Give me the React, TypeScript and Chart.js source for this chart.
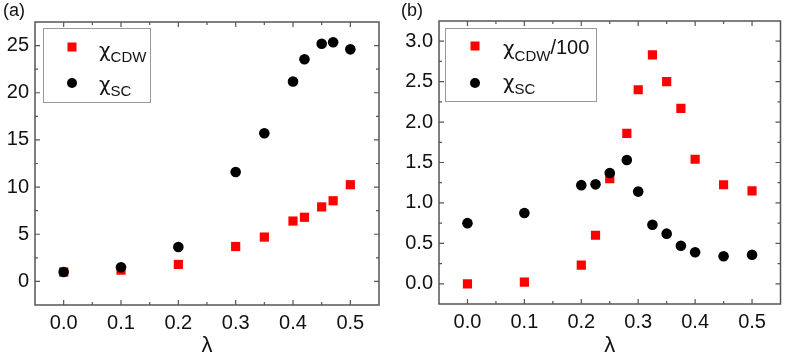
import React, { useEffect, useRef } from "react";
import { Chart, registerables } from "chart.js";
Chart.register(...registerables);

// ---- data ----
const lambdaA = [0, 0.1, 0.2, 0.3, 0.35, 0.4, 0.42, 0.45, 0.47, 0.5];
const cdwA = [1.0, 1.2, 1.8, 3.7, 4.7, 6.4, 6.8, 7.9, 8.55, 10.25];
const scA = [1.0, 1.5, 3.65, 11.6, 15.7, 21.2, 23.55, 25.2, 25.35, 24.6];

const lambdaB = [0, 0.1, 0.2, 0.225, 0.25, 0.28, 0.3, 0.325, 0.35, 0.375, 0.4, 0.45, 0.5];
const cdwB = [0.0, 0.02, 0.23, 0.6, 1.3, 1.86, 2.4, 2.83, 2.5, 2.17, 1.54, 1.225, 1.15];
const scB = [0.75, 0.875, 1.22, 1.23, 1.37, 1.53, 1.14, 0.73, 0.62, 0.47, 0.39, 0.34, 0.36];

const xTicks = [0, 0.1, 0.2, 0.3, 0.4, 0.5];
const yTicksA = [0, 5, 10, 15, 20, 25];
const yTicksB = [0, 0.5, 1.0, 1.5, 2.0, 2.5, 3.0];

const panelLabels = ["(a)", "(b)"];
const xTitle = "λ";

const FONT = "'Liberation Sans', Arial, sans-serif";
const CHI_FONT = "'DejaVu Sans', sans-serif";
const AXIS = "#555";
const RED = "#ff0000";
const BLACK = "#000000";

type LegendItem = { shape: "rect" | "circle"; mx: number; my: number; tx: number; by: number; sb: number; sub: string; suffix: string };
type Spec = {
  label: string; labelX: number;
  box: { x: number; y: number; w: number; h: number };
  items: LegendItem[];
  xt: number[]; yt: number[];
};

function minorOf(ticks: number[], min: number, max: number) {
  const step = ticks[1] - ticks[0];
  const out: number[] = [];
  for (let v = ticks[0] - step / 2; v < max - 1e-9; v += step) {
    if (v > min + 1e-9) out.push(v);
  }
  return out;
}

function decorPlugin(spec: Spec) {
  return {
    id: "decor",
    afterDraw(chart: any) {
      const { ctx, chartArea: a, scales } = chart;
      const xs = scales.x, ys = scales.y;
      ctx.save();
      ctx.strokeStyle = AXIS;
      ctx.lineWidth = 1.5;
      ctx.strokeRect(a.left, a.top, a.right - a.left, a.bottom - a.top);
      ctx.lineWidth = 1.2;
      const drawX = (v: number, len: number) => {
        const p = xs.getPixelForValue(v);
        ctx.beginPath();
        ctx.moveTo(p, a.bottom); ctx.lineTo(p, a.bottom - len);
        ctx.moveTo(p, a.top); ctx.lineTo(p, a.top + len);
        ctx.stroke();
      };
      const drawY = (v: number, len: number) => {
        const p = ys.getPixelForValue(v);
        ctx.beginPath();
        ctx.moveTo(a.left, p); ctx.lineTo(a.left + len, p);
        ctx.moveTo(a.right, p); ctx.lineTo(a.right - len, p);
        ctx.stroke();
      };
      spec.xt.forEach((v) => drawX(v, 5));
      minorOf(spec.xt, xs.min, xs.max).forEach((v) => drawX(v, 3));
      spec.yt.forEach((v) => drawY(v, 5));
      minorOf(spec.yt, ys.min, ys.max).forEach((v) => drawY(v, 3));

      // legend
      ctx.strokeStyle = "#999";
      ctx.lineWidth = 1;
      const b = spec.box;
      ctx.strokeRect(b.x + 0.5, b.y + 0.5, b.w, b.h);
      spec.items.forEach((it) => {
        if (it.shape === "rect") {
          ctx.fillStyle = RED;
          ctx.fillRect(it.mx - 4.5, it.my - 4.5, 9, 9);
        } else {
          ctx.fillStyle = BLACK;
          ctx.beginPath();
          ctx.arc(it.mx, it.my, 5, 0, Math.PI * 2);
          ctx.fill();
        }
        ctx.fillStyle = "#111";
        ctx.textBaseline = "alphabetic";
        ctx.textAlign = "left";
        ctx.font = `20px ${CHI_FONT}`;
        ctx.fillText("χ", it.tx, it.by);
        const w1 = ctx.measureText("χ").width;
        ctx.font = `15px ${FONT}`;
        ctx.fillText(it.sub, it.tx + w1, it.sb);
        const w2 = ctx.measureText(it.sub).width;
        if (it.suffix) {
          ctx.font = `20px ${FONT}`;
          ctx.fillText(it.suffix, it.tx + w1 + w2, it.by - 1);
        }
      });

      // panel label
      ctx.fillStyle = "#111";
      ctx.font = `18px ${FONT}`;
      ctx.fillText(spec.label, spec.labelX, 16);
      ctx.restore();
    },
  };
}

function buildChart(
  canvas: HTMLCanvasElement,
  xs: number[], cdw: number[], sc: number[],
  yMin: number, yMax: number, yTicks: number[], yDigits: number,
  yWidth: number, pad: { left: number; right: number; top: number; bottom: number }, xHeight: number,
  spec: Spec
) {
  return new Chart(canvas, {
    type: "scatter",
    data: {
      datasets: [
        {
          label: "CDW",
          data: xs.map((x, i) => ({ x, y: cdw[i] })),
          pointStyle: "rect",
          pointRadius: 6.5,
          pointBorderWidth: 0,
          pointBackgroundColor: RED,
          backgroundColor: RED,
          borderColor: RED,
          order: 1,
        },
        {
          label: "SC",
          data: xs.map((x, i) => ({ x, y: sc[i] })),
          pointStyle: "circle",
          pointRadius: 5.3,
          pointBorderWidth: 0,
          pointBackgroundColor: BLACK,
          backgroundColor: BLACK,
          borderColor: BLACK,
          order: 0,
        },
      ],
    },
    options: {
      responsive: false,
      animation: false,
      devicePixelRatio: 1,
      layout: { padding: pad },
      plugins: { legend: { display: false }, tooltip: { enabled: false } },
      scales: {
        x: {
          type: "linear",
          min: -0.05,
          max: 0.55,
          grid: { display: false, drawTicks: false },
          border: { display: false },
          afterBuildTicks: (s: any) => { s.ticks = xTicks.map((v) => ({ value: v })); },
          afterFit: (s: any) => { s.height = xHeight; },
          ticks: {
            padding: 6,
            color: "#111",
            font: { size: 20, family: FONT },
            maxRotation: 0,
            autoSkip: false,
            callback: (v: any) => Number(v).toFixed(1),
          },
          title: {
            display: true,
            text: xTitle,
            color: "#111",
            font: { size: 22, family: FONT },
            padding: { top: 0, bottom: 0 },
          },
        },
        y: {
          type: "linear",
          min: yMin,
          max: yMax,
          grid: { display: false, drawTicks: false },
          border: { display: false },
          afterBuildTicks: (s: any) => { s.ticks = yTicks.map((v) => ({ value: v })); },
          afterFit: (s: any) => { s.width = yWidth; },
          ticks: {
            padding: 6,
            color: "#111",
            font: { size: 20, family: FONT },
            autoSkip: false,
            callback: (v: any) => Number(v).toFixed(yDigits),
          },
        },
      },
    },
    plugins: [decorPlugin(spec)],
  } as any);
}

export default function App() {
  const refA = useRef<HTMLCanvasElement>(null);
  const refB = useRef<HTMLCanvasElement>(null);
  useEffect(() => {
    const specA: Spec = {
      label: panelLabels[0], labelX: 3,
      box: { x: 43, y: 28, w: 107, h: 74 },
      items: [
        { shape: "rect", mx: 72, my: 47, tx: 99, by: 57, sb: 62, sub: "CDW", suffix: "" },
        { shape: "circle", mx: 72, my: 83, tx: 99, by: 91, sb: 96, sub: "SC", suffix: "" },
      ],
      xt: xTicks, yt: yTicksA,
    };
    const specB: Spec = {
      label: panelLabels[1], labelX: 8,
      box: { x: 52, y: 28, w: 151, h: 73 },
      items: [
        { shape: "rect", mx: 82, my: 46, tx: 110, by: 55, sb: 61, sub: "CDW", suffix: "/100" },
        { shape: "circle", mx: 82, my: 83, tx: 110, by: 89, sb: 94, sub: "SC", suffix: "" },
      ],
      xt: xTicks, yt: yTicksB,
    };
    const a = buildChart(refA.current!, lambdaA, cdwA, scA, -2.5, 27.5, yTicksA, 0, 35,
      { left: 0, right: 14, top: 22, bottom: 0 }, 54, specA);
    const b = buildChart(refB.current!, lambdaB, cdwB, scB, -0.25, 3.25, yTicksB, 1, 46,
      { left: 0, right: 6, top: 21, bottom: 0 }, 55, specB);
    return () => { a.destroy(); b.destroy(); };
  }, []);
  return (
    <div style={{ position: "absolute", left: 0, top: 0, width: 787, height: 359, background: "#fff" }}>
      <canvas ref={refA} width={393} height={359} style={{ position: "absolute", left: 0, top: 0, display: "block" }} />
      <canvas ref={refB} width={394} height={359} style={{ position: "absolute", left: 393, top: 0, display: "block" }} />
    </div>
  );
}
